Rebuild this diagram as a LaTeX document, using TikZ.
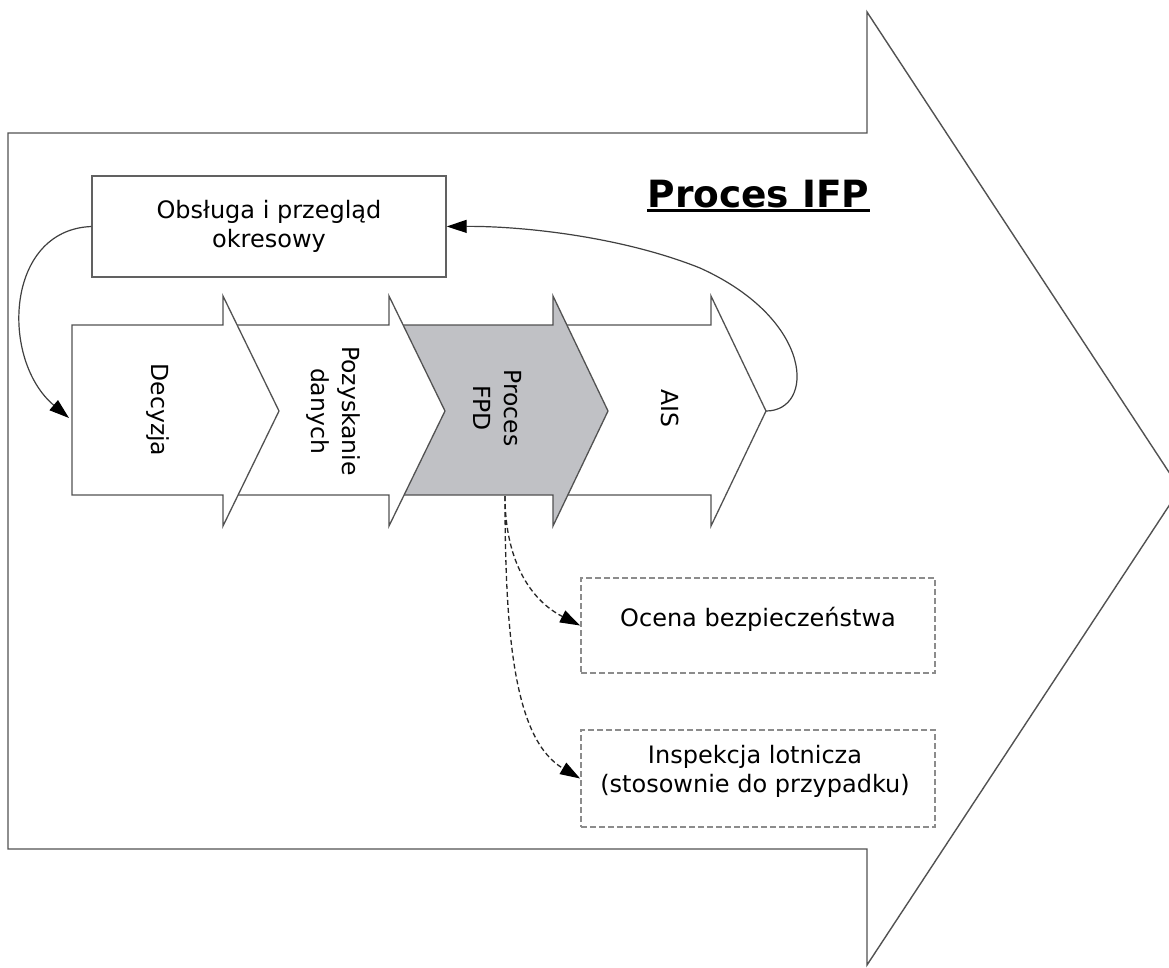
\documentclass[tikz,border=0pt]{standalone}
\usepackage{fontspec}
\setmainfont{DejaVu Sans}
\usetikzlibrary{arrows.meta}
\definecolor{fpdgray}{RGB}{192,193,197}
\begin{document}
\begin{tikzpicture}[x=1pt,y=-1pt,
  outl/.style={draw=black!68, line width=1.4pt, line join=miter},
  chev/.style={draw=black!68, line width=1.3pt, line join=miter, fill=white},
  txt/.style={font=\fontsize{24}{29}\selectfont, align=center, inner sep=0pt},
  vtxt/.style={font=\fontsize{23.5}{31}\selectfont, align=center, inner sep=0pt, rotate=-90},
  solidarr/.style={draw=black!75, line width=1.2pt, -{Triangle[length=20pt,width=13pt,color=black]}},
  dasharr/.style={draw=black!85, line width=1.3pt, dash pattern=on 5pt off 3pt, -{Triangle[length=20pt,width=13pt,color=black]}},
  dbox/.style={draw=black!45, line width=1.8pt, dash pattern=on 6pt off 3pt, minimum width=354pt, inner sep=0pt}
]
\useasboundingbox (0,0) rectangle (1169,967);
% big process arrow
\begin{scope}
\clip (0,0) rectangle (1169,967);
\draw[outl, fill=white] (8,133) -- (867,133) -- (867,12) -- (1180,489) -- (867,965) -- (867,849) -- (8,849) -- cycle;
\end{scope}
% chevrons, right to left
\draw[chev] (553,325) -- (711,325) -- (711,296) -- (766,411) -- (711,526) -- (711,495) -- (553,495) -- cycle;
\draw[chev, fill=fpdgray] (389,325) -- (553,325) -- (553,296) -- (608,411) -- (553,526) -- (553,495) -- (389,495) -- cycle;
\draw[chev] (223,325) -- (389,325) -- (389,296) -- (445,411) -- (389,526) -- (389,495) -- (223,495) -- cycle;
\draw[chev] (72,325) -- (223,325) -- (223,296) -- (279,411) -- (223,526) -- (223,495) -- (72,495) -- cycle;
\coordinate (aistip) at (766,411);
\coordinate (dectail) at (69,418);
\coordinate (fpdbot) at (505,496);
% chevron labels
\node[vtxt] (dec) at (158,410) {Decyzja};
\node[vtxt] (poz) at (333,411) {Pozyskanie\\danych};
\node[vtxt] (fpd) at (498,408) {Proces\\FPD};
\node[vtxt] (ais) at (670,408) {AIS};
% title
\node[font=\fontsize{37.5}{44}\selectfont\bfseries, anchor=base, inner sep=0pt] (ifp) at (758.5,207) {Proces IFP};
\draw[line width=3.5pt] ([yshift=-3.5pt]ifp.base west) -- ([yshift=-3.5pt]ifp.base east);
% maintenance box
\node[draw=black!62, line width=1.4pt, minimum width=354pt, minimum height=101pt, txt, fill=white] (obs) at (269,226.5) {Obsługa i przegląd\\okresowy};
% dashed boxes
\node[dbox, minimum height=95pt] (ocena) at (758,625.5) {};
\node[txt, anchor=base] (ocenat) at (758,626) {Ocena bezpieczeństwa};
\node[dbox, minimum height=97pt] (insp) at (758,778.5) {};
\node[txt] (inspt) at (755,771) {Inspekcja lotnicza\\(stosownie do przypadku)};
% connectors
\draw[solidarr] (obs.west) .. controls (5,230) and (0,360) .. (dectail);
\draw[solidarr] (aistip) .. controls (815,411) and (815,320) .. (700,268) .. controls (620,236) and (520,226) .. (obs.east);
\draw[dasharr] (fpdbot) .. controls (505,560) and (530,600) .. (ocena.west);
\draw[dasharr] (fpdbot) .. controls (505,640) and (515,740) .. (insp.west);
\end{tikzpicture}
\end{document}
